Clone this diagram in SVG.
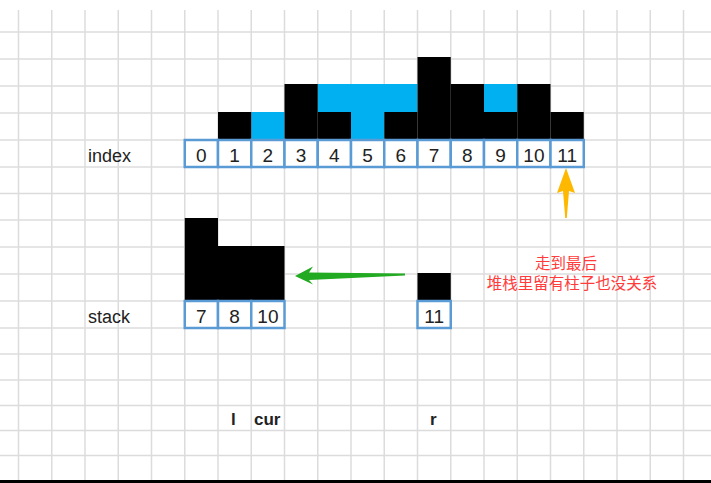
<svg xmlns="http://www.w3.org/2000/svg" width="711" height="483" viewBox="0 0 711 483">
<style>
.grid line{stroke:#dcdcdc;stroke-width:1.5}
.bar{fill:#000}
.water{fill:#00b0f0}
.cell{fill:#fff;stroke:#5b9bd5;stroke-width:2.5}
.num{font-family:"Liberation Sans",Arial,sans-serif;font-size:19px;fill:#222;text-anchor:middle}
.lbl{font-family:"Liberation Sans",Arial,sans-serif;font-size:18px;fill:#222}
.ptr{font-family:"Liberation Sans",Arial,sans-serif;font-size:17px;font-weight:bold;fill:#222}
.note{font-family:"Liberation Sans","Noto Sans CJK SC",sans-serif;font-size:15.5px;fill:#ff3b3b;text-anchor:middle}
</style>
<rect width="711" height="483" fill="#fff"/>
<g class="grid" id="grid">
<line x1="18.5" y1="10" x2="18.5" y2="480"/>
<line x1="51.75" y1="10" x2="51.75" y2="480"/>
<line x1="85" y1="10" x2="85" y2="480"/>
<line x1="118.25" y1="10" x2="118.25" y2="480"/>
<line x1="151.5" y1="10" x2="151.5" y2="480"/>
<line x1="184.75" y1="10" x2="184.75" y2="480"/>
<line x1="218" y1="10" x2="218" y2="480"/>
<line x1="251.25" y1="10" x2="251.25" y2="480"/>
<line x1="284.5" y1="10" x2="284.5" y2="480"/>
<line x1="317.75" y1="10" x2="317.75" y2="480"/>
<line x1="351" y1="10" x2="351" y2="480"/>
<line x1="384.25" y1="10" x2="384.25" y2="480"/>
<line x1="417.5" y1="10" x2="417.5" y2="480"/>
<line x1="450.75" y1="10" x2="450.75" y2="480"/>
<line x1="484" y1="10" x2="484" y2="480"/>
<line x1="517.25" y1="10" x2="517.25" y2="480"/>
<line x1="550.5" y1="10" x2="550.5" y2="480"/>
<line x1="583.75" y1="10" x2="583.75" y2="480"/>
<line x1="617" y1="10" x2="617" y2="480"/>
<line x1="650.25" y1="10" x2="650.25" y2="480"/>
<line x1="683.5" y1="10" x2="683.5" y2="480"/>
<line x1="0" y1="32" x2="711" y2="32"/>
<line x1="0" y1="59" x2="711" y2="59"/>
<line x1="0" y1="86" x2="711" y2="86"/>
<line x1="0" y1="113" x2="711" y2="113"/>
<line x1="0" y1="140" x2="711" y2="140"/>
<line x1="0" y1="167" x2="711" y2="167"/>
<line x1="0" y1="193.5" x2="711" y2="193.5"/>
<line x1="0" y1="220" x2="711" y2="220"/>
<line x1="0" y1="247" x2="711" y2="247"/>
<line x1="0" y1="274" x2="711" y2="274"/>
<line x1="0" y1="301" x2="711" y2="301"/>
<line x1="0" y1="328" x2="711" y2="328"/>
<line x1="0" y1="354" x2="711" y2="354"/>
<line x1="0" y1="380" x2="711" y2="380"/>
<line x1="0" y1="405.5" x2="711" y2="405.5"/>
<line x1="0" y1="430.5" x2="711" y2="430.5"/>
<line x1="0" y1="455.5" x2="711" y2="455.5"/>
</g>
<rect x="0" y="480" width="711" height="3" fill="#000"/>
<g id="histogram">
<rect class="water" x="251.25" y="112" width="33.25" height="28"/>
<rect class="water" x="317.75" y="84" width="99.75" height="28"/>
<rect class="water" x="351" y="112" width="33.25" height="28"/>
<rect class="water" x="484" y="84" width="33.25" height="28"/>
<rect class="bar" x="218" y="112" width="33.25" height="28"/>
<rect class="bar" x="284.5" y="84" width="33.25" height="56"/>
<rect class="bar" x="317.75" y="112" width="33.25" height="28"/>
<rect class="bar" x="384.25" y="112" width="33.25" height="28"/>
<rect class="bar" x="417.5" y="57" width="33.25" height="83"/>
<rect class="bar" x="450.75" y="84" width="33.25" height="56"/>
<rect class="bar" x="484" y="112" width="33.25" height="28"/>
<rect class="bar" x="517.25" y="84" width="33.25" height="56"/>
<rect class="bar" x="550.5" y="112" width="33.25" height="28"/>
</g>
<g id="index-row">
<rect class="cell" x="184.75" y="140" width="33.25" height="27"/>
<rect class="cell" x="218" y="140" width="33.25" height="27"/>
<rect class="cell" x="251.25" y="140" width="33.25" height="27"/>
<rect class="cell" x="284.5" y="140" width="33.25" height="27"/>
<rect class="cell" x="317.75" y="140" width="33.25" height="27"/>
<rect class="cell" x="351" y="140" width="33.25" height="27"/>
<rect class="cell" x="384.25" y="140" width="33.25" height="27"/>
<rect class="cell" x="417.5" y="140" width="33.25" height="27"/>
<rect class="cell" x="450.75" y="140" width="33.25" height="27"/>
<rect class="cell" x="484" y="140" width="33.25" height="27"/>
<rect class="cell" x="517.25" y="140" width="33.25" height="27"/>
<rect class="cell" x="550.5" y="140" width="33.25" height="27"/>
<text class="num" x="201.4" y="161.5">0</text>
<text class="num" x="234.6" y="161.5">1</text>
<text class="num" x="267.9" y="161.5">2</text>
<text class="num" x="301.1" y="161.5">3</text>
<text class="num" x="334.4" y="161.5">4</text>
<text class="num" x="367.6" y="161.5">5</text>
<text class="num" x="400.9" y="161.5">6</text>
<text class="num" x="434.1" y="161.5">7</text>
<text class="num" x="467.4" y="161.5">8</text>
<text class="num" x="500.6" y="161.5">9</text>
<text class="num" x="533.9" y="161.5">10</text>
<text class="num" x="567.1" y="161.5">11</text>
<text class="lbl" x="88" y="162">index</text>
</g>
<g id="stack">
<rect class="bar" x="184.75" y="218" width="33.25" height="83"/>
<rect class="bar" x="218" y="246" width="66.5" height="55"/>
<rect class="cell" x="184.75" y="301" width="33.25" height="27"/>
<rect class="cell" x="218" y="301" width="33.25" height="27"/>
<rect class="cell" x="251.25" y="301" width="33.25" height="27"/>
<text class="num" x="201.4" y="322.5">7</text>
<text class="num" x="234.6" y="322.5">8</text>
<text class="num" x="267.9" y="322.5">10</text>
<text class="lbl" x="88" y="323">stack</text>
</g>
<g id="current">
<rect class="bar" x="417.5" y="273" width="33.25" height="28"/>
<rect class="cell" x="417.5" y="301" width="33.25" height="27"/>
<text class="num" x="434.1" y="322.5">11</text>
</g>
<g id="connectors">
<polygon fill="#22aa22" points="295,276 313,266.5 309,272.5 405,273.5 405,275.5 309,280 313,284.5"/>
<polygon fill="#ffb800" points="566,168 575,193 569,191 566.8,218 565.2,218 563,191 557,193"/>
</g>
<g id="note">
<text class="note" x="566" y="269">走到最后</text>
<text class="note" x="572" y="289">堆栈里留有柱子也没关系</text>
</g>
<g id="pointers">
<text class="ptr" x="231" y="425">l</text>
<text class="ptr" x="254" y="425">cur</text>
<text class="ptr" x="430" y="425">r</text>
</g>
</svg>
